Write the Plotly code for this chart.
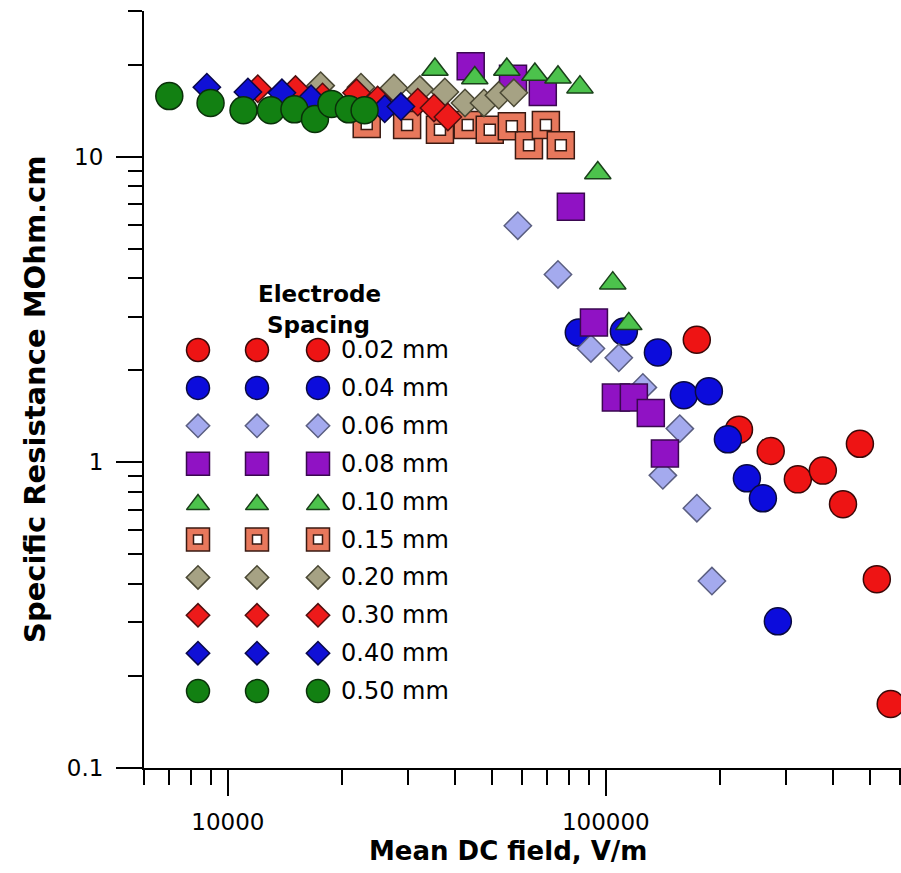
import plotly.graph_objects as go

# ---------------- data ----------------
labels = ["0.02 mm", "0.04 mm", "0.06 mm", "0.08 mm", "0.10 mm",
          "0.15 mm", "0.20 mm", "0.30 mm", "0.40 mm", "0.50 mm"]

x_002 = [174000, 225000, 273000, 322000, 375000, 470000, 424000, 521000, 567000]
y_002 = [2.52, 1.28, 1.09, 0.88, 0.94, 1.15, 0.73, 0.415, 0.162]
x_004 = [84800, 111600, 137300, 160800, 187300, 210300, 236100, 260300, 285100]
y_004 = [2.66, 2.68, 2.29, 1.66, 1.71, 1.19, 0.887, 0.763, 0.302]
x_006 = [58500, 74700, 91300, 108200, 125300, 156900, 141500, 174100, 190800]
y_006 = [5.95, 4.12, 2.36, 2.20, 1.76, 1.29, 0.907, 0.708, 0.409]
x_008 = [43900, 56800, 68100, 80800, 93000, 106300, 118600, 131500, 143300]
y_008 = [19.8, 18.0, 16.3, 6.86, 2.87, 1.63, 1.63, 1.45, 1.07]
x_010 = [35300, 45000, 54700, 64900, 74700, 85400, 95200, 104300, 115000]
y_010 = [19.3, 18.1, 19.3, 18.6, 18.2, 16.9, 8.85, 3.86, 2.84]
x_015 = [23300, 29800, 36400, 43100, 49300, 56400, 62600, 69400, 76000]
y_015 = [12.8, 12.7, 12.25, 12.7, 12.25, 12.6, 10.9, 12.7, 10.9]
x_020 = [17600, 22500, 27500, 32200, 37500, 42400, 47600, 52100, 57100]
y_020 = [17.1, 16.9, 16.8, 16.6, 16.3, 15.0, 15.0, 15.9, 16.2]
x_030 = [12000, 15100, 17800, 21900, 24900, 31800, 35100, 38200]
y_030 = [16.7, 16.6, 15.7, 16.2, 15.35, 15.1, 14.45, 13.5]
x_040 = [8800, 11300, 13900, 16600, 26000, 28700]
y_040 = [16.9, 16.3, 16.2, 15.5, 14.35, 14.6]
x_050 = [7000, 9000, 11000, 13000, 15000, 17000, 18800, 20900, 23000]
y_050 = [15.8, 15.0, 14.2, 14.2, 14.3, 13.3, 14.9, 14.3, 14.2]

x_major = [10000, 100000, 1000000]
x_major_text = ["10000", "100000", "1000000"]
x_minor = [6000, 7000, 8000, 9000] + [m * 10000 for m in range(2, 10)] + [m * 100000 for m in range(2, 10)]
y_major = [0.1, 1, 10]
y_major_text = ["0.1", "1", "10"]
y_minor = [m * 0.1 for m in range(2, 10)] + list(range(2, 10)) + [20, 30]

# ---------------- styles ----------------
xs = [x_002, x_004, x_006, x_008, x_010, x_015, x_020, x_030, x_040, x_050]
ys = [y_002, y_004, y_006, y_008, y_010, y_015, y_020, y_030, y_040, y_050]
symbols = ["circle", "circle", "diamond", "square", "triangle-up",
           "square", "diamond", "diamond", "diamond", "circle"]
fills = ["#EE1414", "#0C0CDC", "#A4AAEE", "#9012C4", "#4CC24C",
         "#E8785C", "#A6A284", "#EE1A1A", "#1010D6", "#128012"]
edges = ["#3A0808", "#0A0A40", "#5A5E80", "#3A0850", "#1A401A",
         "#3A1A12", "#4A4834", "#501010", "#08084A", "#0A300A"]
data_size = {"circle": 27, "square": 27, "diamond": 21, "triangle-up": 23}
leg_size = {"circle": 23, "square": 23, "diamond": 18, "triangle-up": 20}

FONT = "DejaVu Sans"

fig = go.Figure()

for i in range(len(labels)):
    sym = symbols[i]
    fig.add_trace(go.Scatter(
        x=xs[i], y=ys[i], mode="markers", name=labels[i], showlegend=False,
        marker=dict(symbol=sym, size=data_size[sym], color=fills[i],
                    line=dict(color=edges[i], width=1.5))))
    if labels[i] == "0.15 mm":
        fig.add_trace(go.Scatter(
            x=xs[i], y=ys[i], mode="markers", showlegend=False, hoverinfo="skip",
            marker=dict(symbol="square", size=11, color="white",
                        line=dict(color=edges[i], width=1.5))))

# ---------------- custom legend (overlay axes in plot-fraction units) ----------------
L, R, T, B = 144, 901, 11, 768
W, H = R - L, B - T
def fx(px):
    return (px - L) / W
def fy(py):
    return (B - py) / H

leg_cols = [198, 257, 318]
row0, dy = 350, 37.9
for i in range(len(labels)):
    sym = symbols[i]
    py = row0 + i * dy + (3 if sym == "triangle-up" else 0)
    lx = [fx(c) for c in leg_cols]
    ly = [fy(py)] * 3
    fig.add_trace(go.Scatter(
        x=lx, y=ly, xaxis="x2", yaxis="y2", mode="markers", showlegend=False,
        hoverinfo="skip",
        marker=dict(symbol=sym, size=leg_size[sym], color=fills[i],
                    line=dict(color=edges[i], width=1.5))))
    if labels[i] == "0.15 mm":
        fig.add_trace(go.Scatter(
            x=lx, y=ly, xaxis="x2", yaxis="y2", mode="markers", showlegend=False,
            hoverinfo="skip",
            marker=dict(symbol="square", size=9, color="white",
                        line=dict(color=edges[i], width=1.5))))
    fig.add_annotation(x=fx(339), y=fy(row0 + i * dy), xref="paper", yref="paper",
                       text=labels[i], showarrow=False, xanchor="left", yanchor="middle",
                       font=dict(family=FONT, size=24, color="black"))

fig.add_annotation(x=fx(319), y=fy(294), xref="paper", yref="paper", text="<b>Electrode</b>",
                   showarrow=False, xanchor="center", yanchor="middle",
                   font=dict(family=FONT, size=23, color="black"))
fig.add_annotation(x=fx(318), y=fy(325), xref="paper", yref="paper", text="<b>Spacing</b>",
                   showarrow=False, xanchor="center", yanchor="middle",
                   font=dict(family=FONT, size=23, color="black"))

# axis titles
fig.add_annotation(x=fx(508), y=fy(851), xref="paper", yref="paper",
                   text="<b>Mean DC field, V/m</b>", showarrow=False,
                   xanchor="center", yanchor="middle",
                   font=dict(family=FONT, size=26, color="black"))
fig.add_annotation(x=fx(35), y=fy(399), xref="paper", yref="paper",
                   text="<b>Specific Resistance MOhm.cm</b>", showarrow=False,
                   textangle=-90, xanchor="center", yanchor="middle",
                   font=dict(family=FONT, size=29, color="black"))

fig.update_layout(
    width=901, height=873,
    margin=dict(l=L, r=901 - R, t=T, b=873 - B),
    paper_bgcolor="white", plot_bgcolor="white",
    font=dict(family=FONT, color="black"),
    xaxis=dict(type="log", range=[3.77815, 5.7808],
               showgrid=False, zeroline=False,
               showline=True, linecolor="black", linewidth=2,
               ticks="outside", ticklen=26, tickwidth=1.5, tickcolor="black",
               tickmode="array", tickvals=x_major, ticktext=x_major_text,
               tickfont=dict(family=FONT, size=23, color="black"),
               ticklabelstandoff=6,
               minor=dict(ticks="outside", ticklen=15, tickwidth=1.5, tickcolor="black",
                          tickmode="array", tickvals=x_minor, showgrid=False)),
    yaxis=dict(type="log", range=[-1, 1.47712],
               showgrid=False, zeroline=False,
               showline=True, linecolor="black", linewidth=2,
               ticks="outside", ticklen=26, tickwidth=1.5, tickcolor="black",
               tickmode="array", tickvals=y_major, ticktext=y_major_text,
               tickfont=dict(family=FONT, size=23, color="black"),
               ticklabelstandoff=8,
               minor=dict(ticks="outside", ticklen=14, tickwidth=1.5, tickcolor="black",
                          tickmode="array", tickvals=y_minor, showgrid=False)),
    xaxis2=dict(overlaying="x", range=[0, 1], visible=False, fixedrange=True),
    yaxis2=dict(overlaying="y", range=[0, 1], visible=False, fixedrange=True),
    showlegend=False,
)

fig.write_html("out.html")
